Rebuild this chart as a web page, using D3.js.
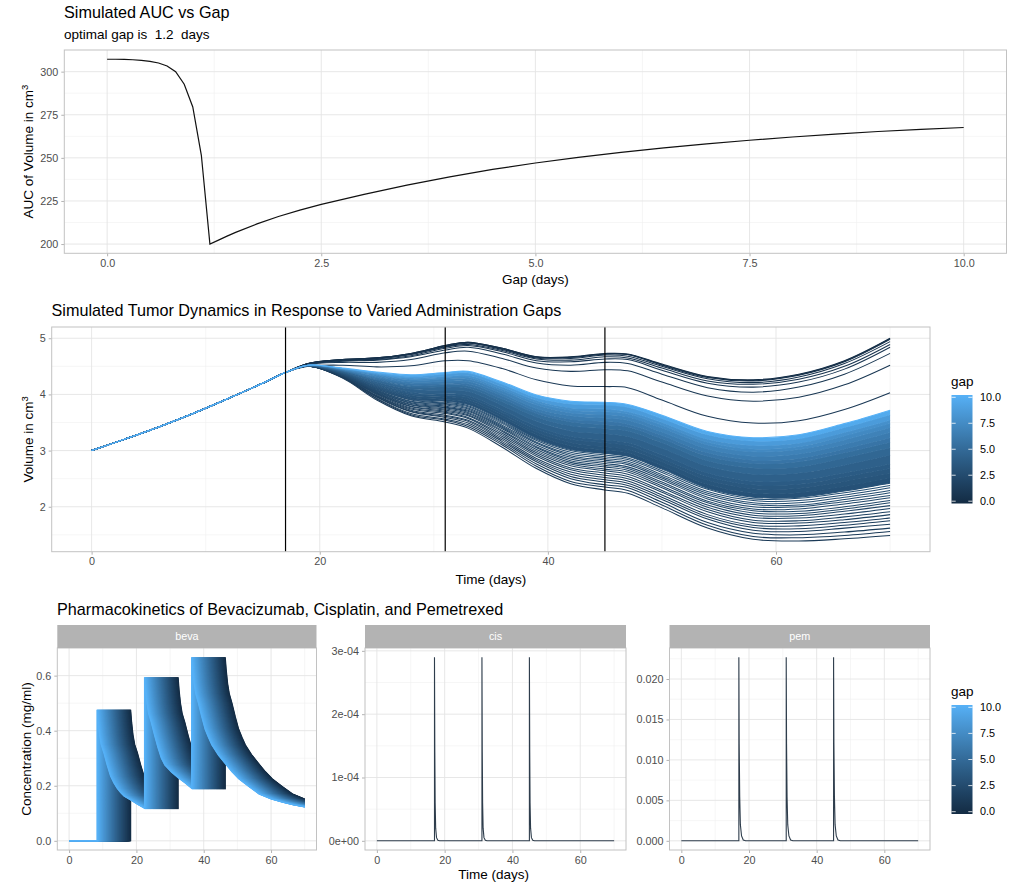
<!DOCTYPE html>
<meta charset="utf-8">
<style>
  body { margin: 0; background: #fff; }
  svg text { font-family: "Liberation Sans", Arial, sans-serif; }
</style>
<svg width="1019" height="886"></svg>
<script src="https://cdn.jsdelivr.net/npm/d3@7"></script>
<script>
// ---- data ----
var aucGap = [0,0.1,0.2,0.3,0.4,0.5,0.6,0.7,0.8,0.9,1.0,1.1,1.2,1.3,1.4,1.5,1.75,2.0,2.25,2.5,3.0,3.5,4.0,4.5,5.0,5.5,6.0,6.5,7.0,7.5,8.0,8.5,9.0,9.5,10.0];
var aucValue = [307.2,307.2,307.1,306.9,306.5,306.0,305.0,303.3,300.0,292.7,279.5,251.5,200.0,202.3,204.6,206.8,211.7,216.0,219.7,223.0,228.8,234.2,239.0,243.3,247.0,250.3,253.2,255.8,258.1,260.2,262.1,263.8,265.3,266.5,267.6];
var optimalGap = 1.2;

var growthTime = [0,3,6,9,12,15];
var growthVolume = [3.00,3.21,3.43,3.67,3.93,4.20];
var tumorTime = [17,19,22,25,28,31,33,36,39,42,45,47,50,54,58,62,66,70];
var tumorGap = [0,0.3,0.5,0.6,0.7,0.8,0.9,1.0,1.1,1.2,1.3,1.4,1.5,1.6,1.7,1.8,1.9,2.0,2.1,2.2,2.3,2.4,2.5,2.6,2.7,2.8,2.9,3.0,
  3.25,3.5,3.75,4.0,4.5,5.0,5.5,6.0,6.5,7.0,7.5,8.0,9.0,10.0];
var tumorVolume = [
  [4.39,4.55,4.62,4.65,4.73,4.87,4.93,4.82,4.67,4.67,4.73,4.72,4.54,4.32,4.26,4.36,4.60,5.00],
  [4.39,4.55,4.62,4.65,4.73,4.87,4.93,4.82,4.67,4.66,4.72,4.71,4.53,4.31,4.25,4.35,4.59,4.99],
  [4.39,4.55,4.62,4.65,4.72,4.86,4.92,4.81,4.66,4.66,4.72,4.71,4.52,4.30,4.24,4.34,4.58,4.98],
  [4.39,4.55,4.61,4.64,4.72,4.85,4.91,4.80,4.65,4.64,4.70,4.68,4.50,4.28,4.21,4.31,4.55,4.94],
  [4.39,4.55,4.61,4.63,4.71,4.84,4.89,4.78,4.63,4.61,4.67,4.65,4.47,4.24,4.18,4.27,4.50,4.89],
  [4.39,4.54,4.60,4.62,4.69,4.82,4.87,4.76,4.60,4.58,4.63,4.62,4.43,4.20,4.13,4.22,4.45,4.84],
  [4.39,4.54,4.59,4.61,4.67,4.79,4.84,4.72,4.56,4.52,4.57,4.55,4.36,4.12,4.04,4.13,4.36,4.73],
  [4.39,4.53,4.57,4.57,4.62,4.74,4.77,4.64,4.47,4.41,4.44,4.42,4.22,3.97,3.88,3.95,4.17,4.52],
  [4.39,4.50,4.52,4.49,4.51,4.60,4.60,4.46,4.26,4.15,4.14,4.12,3.90,3.61,3.49,3.53,3.73,4.03],
  [4.39,4.50,4.29,3.90,3.62,3.51,3.40,3.06,2.68,2.41,2.30,2.24,1.98,1.62,1.42,1.39,1.43,1.49],
  [4.39,4.50,4.30,3.92,3.64,3.54,3.43,3.10,2.72,2.45,2.35,2.29,2.03,1.67,1.47,1.45,1.49,1.56],
  [4.39,4.50,4.30,3.93,3.66,3.56,3.46,3.13,2.76,2.50,2.39,2.34,2.08,1.72,1.53,1.50,1.55,1.62],
  [4.39,4.50,4.31,3.95,3.69,3.59,3.49,3.16,2.80,2.54,2.44,2.38,2.13,1.78,1.58,1.56,1.62,1.69],
  [4.39,4.50,4.31,3.96,3.70,3.61,3.52,3.19,2.83,2.58,2.48,2.42,2.17,1.82,1.63,1.61,1.67,1.75],
  [4.39,4.50,4.32,3.97,3.72,3.63,3.54,3.22,2.86,2.62,2.52,2.46,2.21,1.86,1.67,1.66,1.72,1.80],
  [4.39,4.50,4.32,3.98,3.74,3.66,3.57,3.25,2.90,2.66,2.56,2.50,2.26,1.91,1.72,1.71,1.77,1.86],
  [4.39,4.50,4.32,4.00,3.76,3.68,3.59,3.28,2.93,2.69,2.60,2.54,2.29,1.95,1.76,1.75,1.82,1.91],
  [4.39,4.50,4.33,4.01,3.78,3.70,3.62,3.31,2.96,2.73,2.64,2.58,2.34,1.99,1.81,1.80,1.87,1.97],
  [4.39,4.50,4.33,4.02,3.79,3.72,3.64,3.34,2.99,2.76,2.67,2.62,2.37,2.03,1.85,1.84,1.92,2.02],
  [4.39,4.51,4.34,4.03,3.81,3.74,3.66,3.36,3.02,2.79,2.71,2.65,2.41,2.07,1.89,1.88,1.96,2.07],
  [4.39,4.51,4.34,4.04,3.82,3.76,3.68,3.39,3.05,2.82,2.74,2.68,2.44,2.10,1.93,1.92,2.00,2.11],
  [4.39,4.51,4.34,4.05,3.84,3.77,3.70,3.41,3.07,2.85,2.77,2.71,2.48,2.14,1.96,1.96,2.05,2.16],
  [4.39,4.51,4.35,4.06,3.85,3.79,3.72,3.43,3.10,2.88,2.80,2.75,2.51,2.17,2.00,2.00,2.09,2.20],
  [4.39,4.51,4.35,4.07,3.87,3.81,3.74,3.45,3.13,2.91,2.83,2.78,2.54,2.21,2.04,2.03,2.13,2.25],
  [4.39,4.51,4.36,4.08,3.88,3.83,3.76,3.48,3.15,2.94,2.86,2.81,2.57,2.24,2.07,2.07,2.17,2.29],
  [4.39,4.51,4.36,4.09,3.90,3.84,3.78,3.50,3.18,2.97,2.89,2.84,2.61,2.27,2.11,2.11,2.21,2.34],
  [4.39,4.51,4.36,4.10,3.91,3.86,3.80,3.52,3.20,3.00,2.92,2.87,2.64,2.31,2.14,2.15,2.25,2.38],
  [4.39,4.51,4.37,4.11,3.92,3.88,3.82,3.54,3.22,3.02,2.95,2.90,2.67,2.33,2.17,2.17,2.28,2.42],
  [4.39,4.51,4.37,4.13,3.95,3.91,3.86,3.59,3.28,3.08,3.01,2.96,2.73,2.40,2.24,2.25,2.36,2.51],
  [4.39,4.51,4.38,4.15,3.98,3.95,3.90,3.63,3.33,3.14,3.07,3.02,2.80,2.47,2.32,2.33,2.45,2.59],
  [4.39,4.51,4.39,4.17,4.01,3.98,3.94,3.68,3.38,3.20,3.14,3.09,2.86,2.54,2.39,2.40,2.53,2.68],
  [4.39,4.51,4.39,4.19,4.04,4.01,3.98,3.72,3.43,3.25,3.19,3.14,2.92,2.60,2.45,2.47,2.60,2.76],
  [4.39,4.51,4.41,4.22,4.09,4.07,4.05,3.80,3.52,3.35,3.30,3.25,3.04,2.72,2.58,2.60,2.74,2.92],
  [4.39,4.51,4.42,4.25,4.13,4.13,4.11,3.87,3.60,3.44,3.39,3.35,3.14,2.82,2.69,2.71,2.87,3.05],
  [4.39,4.52,4.42,4.27,4.16,4.17,4.15,3.92,3.66,3.51,3.46,3.42,3.21,2.90,2.77,2.80,2.96,3.15],
  [4.39,4.52,4.43,4.29,4.19,4.20,4.19,3.97,3.70,3.56,3.52,3.47,3.27,2.96,2.83,2.86,3.03,3.23],
  [4.39,4.52,4.44,4.31,4.22,4.23,4.23,4.01,3.75,3.62,3.58,3.54,3.33,3.03,2.90,2.94,3.11,3.32],
  [4.39,4.52,4.45,4.33,4.25,4.27,4.27,4.06,3.81,3.67,3.64,3.60,3.40,3.10,2.98,3.02,3.19,3.41],
  [4.39,4.52,4.45,4.35,4.27,4.29,4.30,4.09,3.85,3.72,3.69,3.65,3.45,3.15,3.03,3.07,3.26,3.48],
  [4.39,4.52,4.46,4.36,4.29,4.32,4.33,4.13,3.89,3.76,3.74,3.69,3.50,3.20,3.09,3.13,3.32,3.54],
  [4.39,4.52,4.46,4.38,4.32,4.36,4.38,4.18,3.94,3.83,3.81,3.77,3.57,3.28,3.17,3.21,3.41,3.64],
  [4.39,4.52,4.47,4.40,4.35,4.39,4.41,4.22,3.99,3.88,3.86,3.82,3.63,3.34,3.23,3.28,3.48,3.72]
];
var doseTimes = [17, 31, 45];

// bevacizumab concentration for gap 0; other gaps are the same profile given gap days earlier
var bevaTime = [0,18.3,18.3,18.6,19.0,19.5,20.3,21.3,22.3,23.3,24.3,25.3,26.3,28.3,30.3,32.4,
  32.4,32.7,33.1,33.6,34.4,35.4,36.4,37.4,38.4,40.4,42.4,44.4,46.4,
  46.4,46.7,47.1,47.6,48.4,49.4,50.4,51.4,52.4,54.4,56.4,58.4,60.4,63.4,66.4,70,73.4,76.4,80];
var bevaConc = [0,0,0.476,0.43,0.385,0.35,0.32,0.275,0.235,0.21,0.19,0.175,0.163,0.148,0.133,0.118,
  0.594,0.547,0.50,0.463,0.43,0.382,0.338,0.30,0.276,0.25,0.229,0.211,0.191,
  0.667,0.62,0.572,0.535,0.50,0.45,0.405,0.375,0.348,0.31,0.28,0.25,0.225,0.197,0.17,0.152,0.14,0.131,0.123];
var cisTime = [0,17,17,17.1,17.2,17.35,17.6,18,18.5,31,31,31.1,31.2,31.35,31.6,32,32.5,45,45,45.1,45.2,45.35,45.6,46,46.5,70];
var cisConc = [0,0,2.9e-4,1.4e-4,0.6e-4,0.2e-4,0.05e-4,0.01e-4,0,0,2.9e-4,1.4e-4,0.6e-4,0.2e-4,0.05e-4,0.01e-4,0,0,2.9e-4,1.4e-4,0.6e-4,0.2e-4,0.05e-4,0.01e-4,0,0];
var pemTime = [0,17,17,17.1,17.25,17.45,17.8,18.3,19,31,31,31.1,31.25,31.45,31.8,32.3,33,45,45,45.1,45.25,45.45,45.8,46.3,47,70];
var pemConc = [0,0,0.0227,0.012,0.0055,0.002,0.0006,0.0001,0,0,0.0227,0.012,0.0055,0.002,0.0006,0.0001,0,0,0.0227,0.012,0.0055,0.002,0.0006,0.0001,0,0];
var gapLevels = [0,0.1,0.2,0.3,0.4,0.5,0.6,0.7,0.8,0.9,1,1.1,1.2,1.3,1.4,1.5,1.6,1.7,1.8,1.9,2,2.1,2.2,2.3,2.4,2.5,2.6,2.7,2.8,2.9,3,
  3.1,3.2,3.3,3.4,3.5,3.6,3.7,3.8,3.9,4,4.1,4.2,4.3,4.4,4.5,4.6,4.7,4.8,4.9,5,5.1,5.2,5.3,5.4,5.5,5.6,5.7,5.8,5.9,6,
  6.1,6.2,6.3,6.4,6.5,6.6,6.7,6.8,6.9,7,7.1,7.2,7.3,7.4,7.5,7.6,7.7,7.8,7.9,8,8.1,8.2,8.3,8.4,8.5,8.6,8.7,8.8,8.9,9,
  9.1,9.2,9.3,9.4,9.5,9.6,9.7,9.8,9.9,10];
var legendTicks = [0, 2.5, 5, 7.5, 10];

var svg = d3.select("svg");
var color = d3.scaleLinear().domain([0, 10]).range(["#132B43", "#56B1F7"]).interpolate(d3.interpolateLab);

function panel(x, y, xMajor, xMinor, yMajor, yMinor, xFmt, yFmt) {
  var xa = x.range(), ya = y.range();
  var g = svg.append("g");
  g.selectAll(".gxm").data(xMinor).enter().append("line")
    .attr("x1", x).attr("x2", x).attr("y1", ya[0]).attr("y2", ya[1])
    .attr("stroke", "#f0f0f0").attr("stroke-width", 0.6);
  g.selectAll(".gym").data(yMinor).enter().append("line")
    .attr("y1", y).attr("y2", y).attr("x1", xa[0]).attr("x2", xa[1])
    .attr("stroke", "#f0f0f0").attr("stroke-width", 0.6);
  g.selectAll(".gxM").data(xMajor).enter().append("line")
    .attr("x1", x).attr("x2", x).attr("y1", ya[0]).attr("y2", ya[1])
    .attr("stroke", "#e4e4e4").attr("stroke-width", 0.9);
  g.selectAll(".gyM").data(yMajor).enter().append("line")
    .attr("y1", y).attr("y2", y).attr("x1", xa[0]).attr("x2", xa[1])
    .attr("stroke", "#e4e4e4").attr("stroke-width", 0.9);

  var ax = g.append("g").attr("transform", "translate(0," + ya[0] + ")")
    .call(d3.axisBottom(x).tickValues(xMajor).tickSize(3).tickPadding(3).tickFormat(xFmt));
  var ay = g.append("g").attr("transform", "translate(" + xa[0] + ",0)")
    .call(d3.axisLeft(y).tickValues(yMajor).tickSize(3).tickPadding(3).tickFormat(yFmt));
  [ax, ay].forEach(function(a) {
    a.select(".domain").remove();
    a.selectAll(".tick line").attr("stroke", "#b3b3b3");
    a.selectAll("text").attr("fill", "#4d4d4d").attr("font-size", null).style("font-size", "10.8px");
  });
  return g;
}
function border(x, y) {
  var xa = x.range(), ya = y.range();
  svg.append("rect").attr("x", xa[0]).attr("y", ya[1])
    .attr("width", xa[1] - xa[0]).attr("height", ya[0] - ya[1])
    .attr("fill", "none").attr("stroke", "#c2c2c2").attr("stroke-width", 1);
}
function label(txt, x, y, size, anchor, rot) {
  var t = svg.append("text").attr("x", x).attr("y", y)
    .attr("text-anchor", anchor || "start").style("font-size", size + "px").attr("fill", "#000");
  if (rot) t.attr("transform", "rotate(-90," + x + "," + y + ")");
  return t.text(txt);
}
function cm3(txt, x, y) {
  var t = label(txt, x, y, 13.5, "middle", true);
  t.append("tspan").attr("dy", -5).style("font-size", "9.5px").text("3");
}
function gapLegend(titleY, top, bottom) {
  var id = "grad" + top;
  var grad = svg.append("defs").append("linearGradient").attr("id", id)
    .attr("x1", 0).attr("x2", 0).attr("y1", 1).attr("y2", 0);
  d3.range(0, 11).forEach(function(i) {
    grad.append("stop").attr("offset", i / 10).attr("stop-color", color(i));
  });
  label("gap", 951, titleY, 13.5);
  svg.append("rect").attr("x", 951.5).attr("y", top).attr("width", 21).attr("height", bottom - top)
    .attr("fill", "url(#" + id + ")");
  var ly = d3.scaleLinear().domain([0, 10]).range([bottom - 2.3, top + 2.3]);
  var tk = svg.append("g");
  legendTicks.forEach(function(v) {
    tk.append("line").attr("x1", 951.5).attr("x2", 955.7).attr("y1", ly(v)).attr("y2", ly(v))
      .attr("stroke", "#fff").attr("stroke-width", 0.8);
    tk.append("line").attr("x1", 968.3).attr("x2", 972.5).attr("y1", ly(v)).attr("y2", ly(v))
      .attr("stroke", "#fff").attr("stroke-width", 0.8);
    tk.append("text").attr("x", 980).attr("y", ly(v)).attr("dy", "0.35em")
      .style("font-size", "10.8px").attr("fill", "#000").text(d3.format(".1f")(v));
  });
}

// ---- top: AUC vs gap ----
var x1 = d3.scaleLinear().domain([-0.5, 10.5]).range([64.3, 1006.5]);
var y1 = d3.scaleLinear().domain([194.64, 312.56]).range([253.3, 50]);
var g1 = panel(x1, y1, [0, 2.5, 5, 7.5, 10], [1.25, 3.75, 6.25, 8.75], [200, 225, 250, 275, 300], [212.5, 237.5, 262.5, 287.5],
  d3.format(".1f"), d3.format("d"));
g1.append("path").datum(aucGap.map(function(d, i) { return [d, aucValue[i]]; }))
  .attr("d", d3.line().x(function(d) { return x1(d[0]); }).y(function(d) { return y1(d[1]); }))
  .attr("fill", "none").attr("stroke", "#111").attr("stroke-width", 1.2);
border(x1, y1);
label("Simulated AUC vs Gap", 64, 17.5, 16.2);
label("optimal gap is  " + optimalGap + "  days", 64, 39, 13.5).style("white-space", "pre");
label("Gap (days)", 535.4, 284, 13.5, "middle");
cm3("AUC of Volume in cm", 33, 151.6);

// ---- middle: tumor dynamics ----
var x2 = d3.scaleLinear().domain([-3.5, 73.5]).range([51.7, 930]);
var y2 = d3.scaleLinear().domain([1.2, 5.2]).range([551.7, 327]);
var g2 = panel(x2, y2, [0, 20, 40, 60], [10, 30, 50, 70], [2, 3, 4, 5], [1.5, 2.5, 3.5, 4.5],
  d3.format("d"), d3.format("d"));
var curve = d3.curveCatmullRom.alpha(0.5);
var tumorLine = d3.line().x(function(d) { return x2(d[0]); }).y(function(d) { return y2(d[1]); }).curve(curve);
var tumorArea = d3.area().x(function(d) { return x2(d[0]); })
  .y0(function(d) { return y2(d[1]); }).y1(function(d) { return y2(d[2]); }).curve(curve);
tumorGap.forEach(function(gp, i) {
  // the upper part of the band is so dense that the lines merge into a fill
  if (i > 0 && gp >= 3.25) {
    var band = tumorTime.map(function(t, j) { return [t, tumorVolume[i - 1][j], tumorVolume[i][j]]; });
    g2.append("path").attr("d", tumorArea(band)).attr("fill", color((gp + tumorGap[i - 1]) / 2));
  }
  var pts = growthTime.map(function(t, j) { return [t, growthVolume[j]]; })
    .concat(tumorTime.map(function(t, j) { return [t, tumorVolume[i][j]]; }));
  g2.append("path").attr("d", tumorLine(pts)).attr("fill", "none")
    .attr("stroke", color(gp)).attr("stroke-width", 1.05);
});
g2.selectAll(".dose").data(doseTimes).enter().append("line")
  .attr("x1", x2).attr("x2", x2).attr("y1", 327).attr("y2", 551.7)
  .attr("stroke", "#000").attr("stroke-width", 1.2);
border(x2, y2);
label("Simulated Tumor Dynamics in Response to Varied Administration Gaps", 51.5, 316, 16.2);
label("Time (days)", 490.8, 584, 13.5, "middle");
cm3("Volume in cm", 33, 439.3);
gapLegend(386, 395, 503.5);

// ---- bottom: pharmacokinetics facets ----
var facets = [
  { name: "beva", l: 57.3, r: 316.5, dom: [-0.03335, 0.70035], yMaj: [0, 0.2, 0.4, 0.6], yMin: [0.1, 0.3, 0.5], fmt: d3.format(".1f") },
  { name: "cis", l: 365, r: 626, dom: [-1.45e-5, 3.045e-4], yMaj: [0, 1e-4, 2e-4, 3e-4], yMin: [0.5e-4, 1.5e-4, 2.5e-4],
    fmt: function(v) { return v === 0 ? "0e+00" : v.toExponential(0).replace(/e([+-])(\d)$/, "e$10$2"); } },
  { name: "pem", l: 669.5, r: 930, dom: [-0.001135, 0.023835], yMaj: [0, 0.005, 0.01, 0.015, 0.02], yMin: [0.0025, 0.0075, 0.0125, 0.0175, 0.0225], fmt: d3.format(".3f") }
];
facets.forEach(function(f) {
  var x = d3.scaleLinear().domain([-3.5, 73.5]).range([f.l, f.r]);
  var y = d3.scaleLinear().domain(f.dom).range([850, 648]);
  var g = panel(x, y, [0, 20, 40, 60], [10, 30, 50, 70], f.yMaj, f.yMin, d3.format("d"), f.fmt);
  var line = d3.line().x(function(d) { return x(d[0]); }).y(function(d) { return y(d[1]); });
  if (f.name === "beva") {
    svg.append("clipPath").attr("id", "bevaClip").append("rect")
      .attr("x", x(0)).attr("y", 640).attr("width", x(70) - x(0)).attr("height", 215);
    var lg = g.append("g").attr("clip-path", "url(#bevaClip)");
    gapLevels.forEach(function(gp) {
      var pts = bevaTime.map(function(t, j) { return [t - gp, bevaConc[j]]; });
      lg.append("path").attr("d", line(pts)).attr("fill", "none")
        .attr("stroke", color(gp)).attr("stroke-width", 1.1);
    });
  } else {
    var tt = f.name === "cis" ? cisTime : pemTime;
    var cc = f.name === "cis" ? cisConc : pemConc;
    g.append("path").attr("d", line(tt.map(function(t, j) { return [t, cc[j]]; })))
      .attr("fill", "none").attr("stroke", "#2e3d4c").attr("stroke-width", 1.1);
  }
  border(x, y);
  svg.append("rect").attr("x", f.l).attr("y", 625).attr("width", f.r - f.l).attr("height", 23).attr("fill", "#b3b3b3");
  svg.append("text").attr("x", (f.l + f.r) / 2).attr("y", 640.3).attr("text-anchor", "middle")
    .style("font-size", "10.8px").attr("fill", "#fff").text(f.name);
});
label("Pharmacokinetics of Bevacizumab, Cisplatin, and Pemetrexed", 57, 614.5, 16.2);
label("Time (days)", 493.7, 879, 13.5, "middle");
label("Concentration (mg/ml)", 31, 749, 13.5, "middle", true);
gapLegend(696, 705, 814);
</script>
